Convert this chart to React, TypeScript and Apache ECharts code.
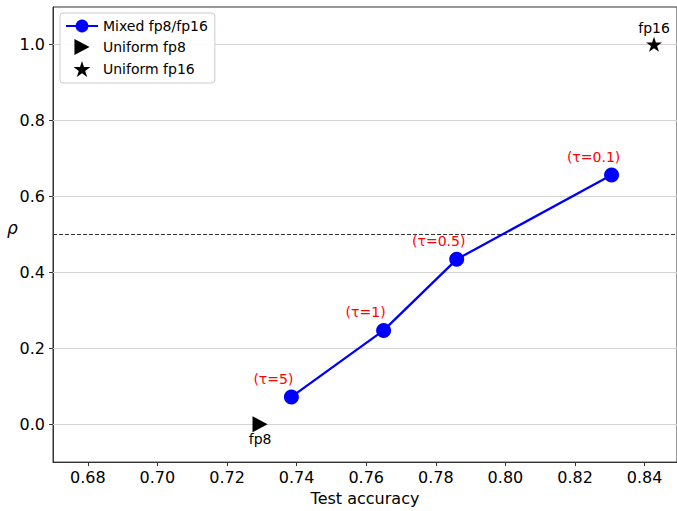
import React, { useEffect, useRef } from "react";
import * as echarts from "echarts";

const mixedAccuracy = [0.7385, 0.765, 0.786, 0.8305];
const mixedRho = [0.072, 0.247, 0.434, 0.656];
const mixedLabels = ["(τ=5)", "(τ=1)", "(τ=0.5)", "(τ=0.1)"];
const fp8Point = [0.7295, 0.0];
const fp16Point = [0.8427, 1.0];
const xTicks = [0.68, 0.7, 0.72, 0.74, 0.76, 0.78, 0.8, 0.82, 0.84];
const yTicks = [0.0, 0.2, 0.4, 0.6, 0.8, 1.0];
const thresholdRho = 0.5;

const STAR =
  "path://M50,0 L61.2,34.5 L97.6,34.5 L68.2,55.9 L79.4,90.5 L50,69.1 L20.6,90.5 L31.8,55.9 L2.4,34.5 L38.8,34.5 Z";
const TRI_RIGHT = "path://M0,0 L17,9 L0,18 Z";

const FONT = "DejaVu Sans";

export default function App() {
  const ref = useRef<HTMLDivElement>(null);
  useEffect(() => {
    if (!ref.current) return;
    const chart = echarts.init(ref.current, null, { renderer: "svg" });
    const gridLines = yTicks.map((v) => ({
      yAxis: v,
      lineStyle: { color: "#d3d3d3", width: 1.2, type: "solid" },
    }));
    chart.setOption({
      animation: false,
      textStyle: { fontFamily: FONT },
      grid: {
        left: 53,
        right: -2,
        top: 7,
        bottom: 47,
        show: true,
        borderColor: "#333",
        borderWidth: 1,
        backgroundColor: "transparent",
      },
      graphic: [
        {
          type: "text",
          left: 7,
          top: 219,
          style: {
            text: "ρ",
            fontFamily: FONT,
            fontSize: 17,
            fontStyle: "italic",
            fill: "#000",
          },
        },
      ],
      legend: {
        orient: "vertical",
        left: 60,
        top: 13,
        z: 10,
        padding: [6, 7, 6, 5],
        itemGap: 6,
        itemWidth: 32,
        itemHeight: 16,
        borderColor: "#cccccc",
        borderWidth: 1,
        borderRadius: 3,
        backgroundColor: "rgba(255,255,255,0.9)",
        textStyle: { fontFamily: FONT, fontSize: 14, color: "#000" },
        data: [
          { name: "Mixed fp8/fp16" },
          { name: "Uniform fp8", icon: TRI_RIGHT },
          { name: "Uniform fp16", icon: STAR },
        ],
      },
      xAxis: {
        type: "value",
        min: 0.67,
        max: 0.8493,
        name: "Test accuracy",
        nameLocation: "middle",
        nameGap: 27,
        nameTextStyle: { fontFamily: FONT, fontSize: 16, color: "#000" },
        axisLine: { show: true, onZero: false, lineStyle: { color: "#333", width: 1 } },
        axisTick: {
          show: true,
          length: 4,
          customValues: xTicks,
          lineStyle: { color: "#333" },
        },
        axisLabel: {
          customValues: xTicks,
          formatter: (v: number) => v.toFixed(2),
          fontFamily: FONT,
          fontSize: 16,
          color: "#000",
          margin: 7,
        },
        splitLine: { show: false },
      },
      yAxis: {
        type: "value",
        min: -0.0996,
        max: 1.098,
        axisLine: { show: true, onZero: false, lineStyle: { color: "#333", width: 1 } },
        axisTick: {
          show: true,
          length: 4,
          customValues: yTicks,
          lineStyle: { color: "#333" },
        },
        axisLabel: {
          customValues: yTicks,
          formatter: (v: number) => v.toFixed(1),
          fontFamily: FONT,
          fontSize: 16,
          color: "#000",
          margin: 8,
        },
        splitLine: { show: false },
      },
      series: [
        {
          name: "gridlines",
          type: "line",
          data: [],
          silent: true,
          z: 1,
          markLine: {
            silent: true,
            z: 1,
            symbol: "none",
            label: { show: false },
            data: [
              ...gridLines,
              {
                yAxis: thresholdRho,
                lineStyle: { color: "#333", width: 1, type: [4, 2] },
              },
            ],
          },
        },
        {
          name: "Mixed fp8/fp16",
          type: "line",
          z: 3,
          data: mixedAccuracy.map((x, i) => ({
            value: [x, mixedRho[i]],
            label: { formatter: mixedLabels[i] },
          })),
          symbol: "circle",
          symbolSize: 15,
          itemStyle: { color: "#0000ff", opacity: 1 },
          lineStyle: { color: "#0000ff", width: 2.3 },
          label: {
            show: true,
            position: "inside",
            offset: [-18, -18],
            color: "#ff0000",
            fontFamily: FONT,
            fontSize: 14,
          },
        },
        {
          name: "Uniform fp8",
          type: "scatter",
          z: 3,
          data: [fp8Point],
          symbol: TRI_RIGHT,
          symbolSize: 16,
          symbolKeepAspect: true,
          itemStyle: { color: "#000", opacity: 1 },
          label: {
            show: true,
            position: "inside",
            offset: [0, 15],
            formatter: "fp8",
            color: "#000",
            fontFamily: FONT,
            fontSize: 14,
          },
        },
        {
          name: "Uniform fp16",
          type: "scatter",
          z: 3,
          data: [fp16Point],
          symbol: STAR,
          symbolSize: 16,
          symbolKeepAspect: true,
          itemStyle: { color: "#000", opacity: 1 },
          label: {
            show: true,
            position: "inside",
            offset: [0, -16],
            formatter: "fp16",
            color: "#000",
            fontFamily: FONT,
            fontSize: 14,
          },
        },
      ],
    });
    return () => chart.dispose();
  }, []);
  return (
    <div
      ref={ref}
      style={{ position: "fixed", left: 0, top: 0, width: 677, height: 511, background: "#fff" }}
    />
  );
}
